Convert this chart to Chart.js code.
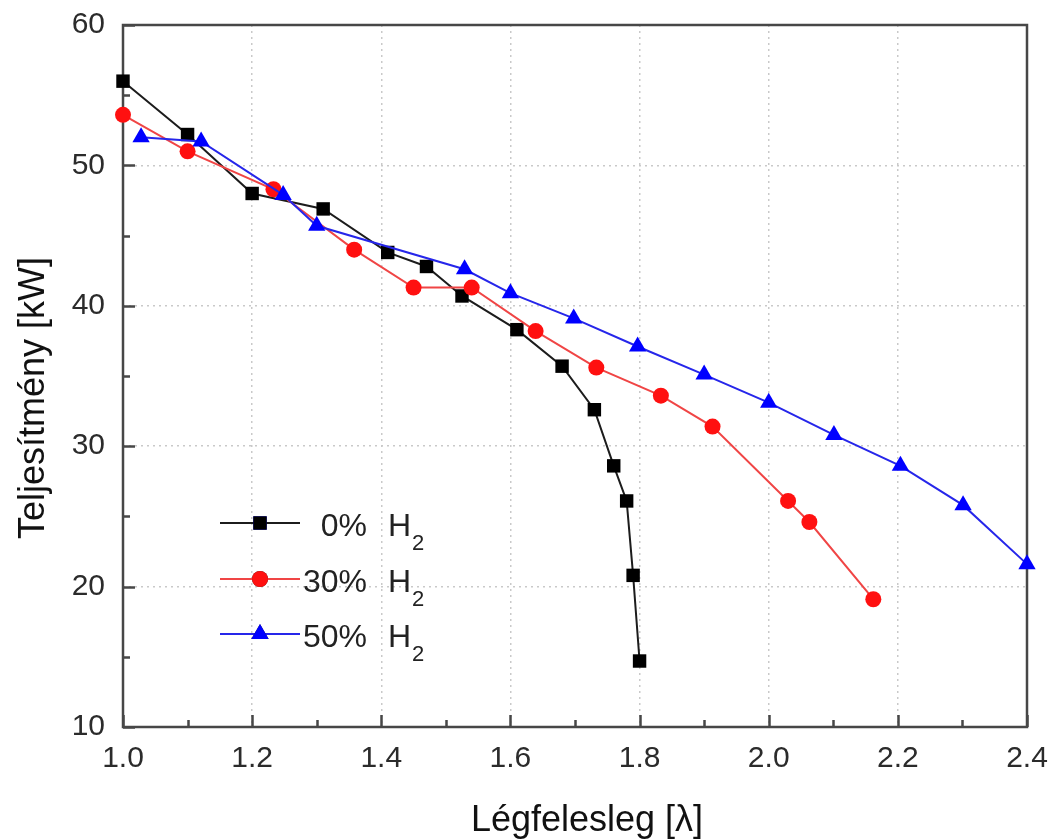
<!DOCTYPE html>
<html>
<head>
<meta charset="utf-8">
<script src="https://cdn.jsdelivr.net/npm/chart.js@4.4.1/dist/chart.umd.min.js"></script>
<style>
html,body{margin:0;padding:0;background:#ffffff;}
#wrap{width:1051px;height:840px;position:relative;}
</style>
</head>
<body>
<div id="wrap"><canvas id="c" width="1051" height="840"></canvas></div>
<script>
// ---- data ----
const seriesLabels = ['0%', '30%', '50%'];
const gasLabel = 'H';
const gasSub = '2';

const lambda0 = [1.0, 1.1, 1.2, 1.31, 1.41, 1.47, 1.525, 1.61, 1.68, 1.73, 1.76, 1.78, 1.79, 1.80];
const power0  = [56.0, 52.2, 48.0, 46.9, 43.8, 42.8, 40.7, 38.3, 35.7, 32.6, 28.6, 26.1, 20.8, 14.7];

const lambda30 = [1.0, 1.1, 1.233, 1.358, 1.45, 1.54, 1.639, 1.733, 1.833, 1.913, 2.03, 2.063, 2.162];
const power30  = [53.6, 51.0, 48.3, 44.0, 41.3, 41.3, 38.2, 35.6, 33.6, 31.4, 26.1, 24.6, 19.1];

const lambda50 = [1.028, 1.121, 1.248, 1.30, 1.529, 1.60, 1.698, 1.797, 1.90, 2.0, 2.101, 2.204, 2.301, 2.40];
const power50  = [52.0, 51.7, 47.9, 45.7, 42.6, 40.9, 39.1, 37.1, 35.1, 33.1, 30.8, 28.6, 25.8, 21.6];

const xTickValues = [1.0, 1.2, 1.4, 1.6, 1.8, 2.0, 2.2, 2.4];
const yTickValues = [10, 20, 30, 40, 50, 60];
const xTitle = 'Légfelesleg [λ]';
const yTitle = 'Teljesítmény [kW]';

// ---- styling ----
const FONT = "'Liberation Sans', Arial, sans-serif";
const TXT = '#2b2b2b';
const FRAME = '#474747';
const colors = {
  line: ['#1c1c1c', '#f04545', '#2626ea'],
  point: ['#000000', '#ff1010', '#0000ff'],
  style: ['rect', 'circle', 'triangle'],
  radius: [9.5, 8, 10]
};

function pts(xs, ys) { return xs.map((x, i) => ({x: x, y: ys[i]})); }
const allSeries = [pts(lambda0, power0), pts(lambda30, power30), pts(lambda50, power50)];

const datasets = allSeries.map((d, i) => ({
  label: seriesLabels[i] + ' ' + gasLabel + '\u2082',
  data: d,
  borderColor: colors.line[i],
  backgroundColor: colors.point[i],
  pointBackgroundColor: colors.point[i],
  pointBorderColor: colors.point[i],
  pointBorderWidth: 0,
  pointStyle: colors.style[i],
  pointRadius: colors.radius[i],
  pointHoverRadius: colors.radius[i],
  borderWidth: 2,
  tension: 0,
  clip: false,
  order: 2 - i
}));

function zeroPad(s) { s.paddingTop = 0; s.paddingBottom = 0; s.paddingLeft = 0; s.paddingRight = 0; }

// frame + inward ticks (drawn before datasets)
const framePlugin = {
  id: 'frame',
  beforeDatasetsDraw(chart) {
    const {ctx, chartArea: a, scales} = chart;
    const xs = scales.x, ys = scales.y;
    ctx.save();
    ctx.strokeStyle = FRAME;
    ctx.lineWidth = 2.5;
    ctx.beginPath();
    for (let k = 0; k <= 14; k++) {
      const v = 1.0 + k * 0.1;
      const px = Math.round(xs.getPixelForValue(v)) + 0.5;
      const len = (k % 2 === 0) ? 12 : 7;
      ctx.moveTo(px, a.bottom);
      ctx.lineTo(px, a.bottom - len);
    }
    for (let k = 0; k <= 10; k++) {
      const v = 10 + k * 5;
      const py = Math.round(ys.getPixelForValue(v)) + 0.5;
      const len = (k % 2 === 0) ? 12 : 7;
      ctx.moveTo(a.left, py);
      ctx.lineTo(a.left + len, py);
    }
    ctx.stroke();
    ctx.strokeRect(a.left, a.top, a.right - a.left, a.bottom - a.top);
    ctx.restore();
  },
  afterDraw(chart) {
    const {ctx} = chart;
    ctx.save();
    ctx.fillStyle = '#111111';
    ctx.font = '36px ' + FONT;
    ctx.textAlign = 'center';
    ctx.textBaseline = 'alphabetic';
    ctx.fillText(xTitle, 587, 831);
    ctx.translate(44, 398);
    ctx.rotate(-Math.PI / 2);
    ctx.fillText(yTitle, 0, 0);
    ctx.restore();

    // legend
    ctx.save();
    const rows = [523, 579, 634];
    chart.data.datasets.forEach((ds, i) => {
      const y = rows[i];
      ctx.strokeStyle = ds.borderColor;
      ctx.lineWidth = 2;
      ctx.beginPath();
      ctx.moveTo(220, y);
      ctx.lineTo(300, y);
      ctx.stroke();
      Chart.helpers.drawPoint(ctx, {
        pointStyle: ds.pointStyle,
        radius: ds.pointRadius,
        rotation: 0,
        borderWidth: 0
      }, 260, y);
      ctx.fillStyle = ds.pointBackgroundColor;
      ctx.fill();
      ctx.fillStyle = '#222222';
      ctx.font = '32px ' + FONT;
      ctx.textBaseline = 'alphabetic';
      ctx.textAlign = 'right';
      ctx.fillText(seriesLabels[i], 367, y + 13);
      ctx.textAlign = 'left';
      ctx.fillText(gasLabel, 388, y + 13);
      const hw = ctx.measureText(gasLabel).width;
      ctx.font = '22px ' + FONT;
      ctx.fillText(gasSub, 388 + hw + 1, y + 27);
    });
    ctx.restore();
  }
};

new Chart(document.getElementById('c'), {
  type: 'line',
  data: { datasets: datasets },
  plugins: [framePlugin],
  options: {
    responsive: false,
    animation: false,
    devicePixelRatio: 1,
    layout: { padding: { left: 0, top: 25, right: 24, bottom: 0 } },
    plugins: { legend: { display: false }, tooltip: { enabled: false }, title: { display: false } },
    scales: {
      x: {
        type: 'linear',
        min: 1.0, max: 2.4,
        afterBuildTicks: (s) => { s.ticks = xTickValues.map(v => ({value: v})); },
        afterFit: (s) => { s.height = 113; zeroPad(s); },
        ticks: {
          color: TXT,
          font: { family: FONT, size: 30 },
          padding: 14,
          maxRotation: 0,
          autoSkip: false,
          callback: (v) => Number(v).toFixed(1)
        },
        grid: { color: '#c9c9c9', lineWidth: 1.5, drawTicks: false },
        border: { display: false, dash: [2, 4] }
      },
      y: {
        type: 'linear',
        min: 10, max: 60,
        afterBuildTicks: (s) => { s.ticks = yTickValues.map(v => ({value: v})); },
        afterFit: (s) => { s.width = 123; zeroPad(s); },
        ticks: {
          color: TXT,
          font: { family: FONT, size: 30 },
          padding: 18,
          autoSkip: false,
          callback: (v) => String(v)
        },
        grid: { color: '#c9c9c9', lineWidth: 1.5, drawTicks: false },
        border: { display: false, dash: [2, 4] }
      }
    }
  }
});
</script>
</body>
</html>
